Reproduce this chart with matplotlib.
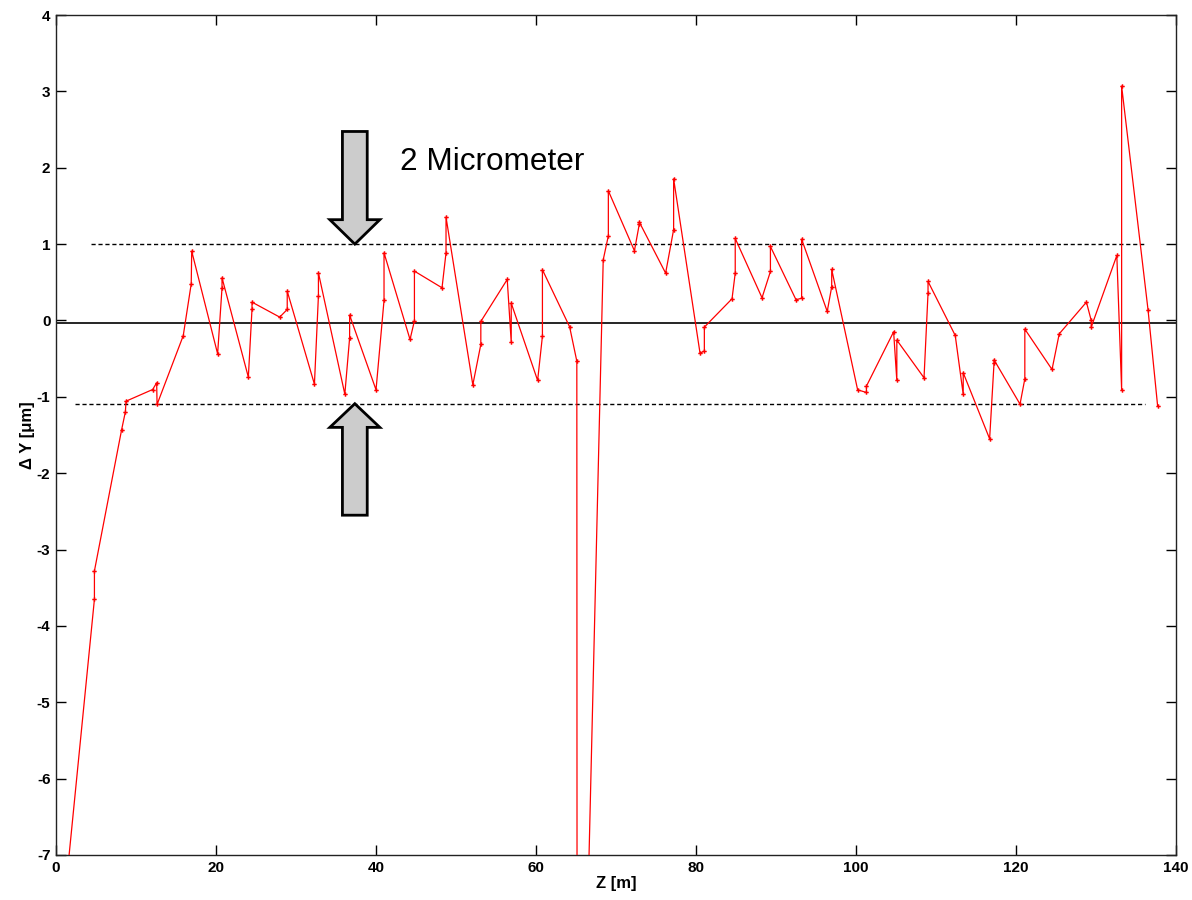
import matplotlib
matplotlib.use("Agg")
import matplotlib.pyplot as plt
from matplotlib.patches import FancyArrow

plt.rcParams['font.family'] = ['Liberation Sans', 'DejaVu Sans']
plt.rcParams['axes.unicode_minus'] = False

# Data
z = [0.5, 4.8, 4.8, 8.2, 8.67, 8.75, 12.08, 12.58, 12.63, 15.9, 16.9, 16.96,
     20.2, 20.75, 20.75, 24.04, 24.5, 24.5, 27.96, 28.9, 28.9, 32.3, 32.8, 32.8,
     36.1, 36.7, 36.7, 40.0, 41.0, 41.0, 44.25, 44.8, 44.8, 48.25, 48.75, 48.75,
     52.1, 53.1, 53.1, 56.4, 56.9, 56.9, 60.2, 60.8, 60.8, 64.2, 65.1, 65.15,
     68.4, 69.04, 69.04, 72.3, 72.9, 72.9, 76.2, 77.2, 77.2, 80.5, 81.04, 81.04,
     84.5, 84.9, 84.9, 88.25, 89.3, 89.3, 92.5, 93.2, 93.2, 96.4, 96.96, 96.96,
     100.2, 101.3, 101.3, 104.7, 105.1, 105.1, 108.5, 109.0, 109.0, 112.4, 113.4, 113.4,
     116.7, 117.25, 117.25, 120.5, 121.1, 121.1, 124.5, 125.4, 128.8, 129.4, 129.4,
     132.6, 133.2, 133.2, 136.5, 137.7]
dy = [-8.2, -3.65, -3.28, -1.43, -1.196, -1.057, -0.904, -0.816, -1.10, -0.20, 0.48, 0.908,
      -0.437, 0.428, 0.559, -0.742, 0.153, 0.24, 0.044, 0.144, 0.384, -0.834, 0.323, 0.624,
      -0.965, -0.227, 0.07, -0.908, 0.262, 0.886, -0.249, -0.004, 0.646, 0.428, 0.886, 1.353,
      -0.843, -0.314, -0.013, 0.537, -0.284, 0.227, -0.786, -0.205, 0.664, -0.083, -0.533, -13.5,
      0.795, 1.109, 1.698, 0.913, 1.257, 1.29, 0.62, 1.19, 1.855, -0.428, -0.40, -0.087,
      0.284, 0.62, 1.074, 0.297, 0.642, 0.969, 0.271, 0.292, 1.065, 0.118, 0.441, 0.668,
      -0.908, -0.943, -0.86, -0.148, -0.786, -0.257, -0.751, 0.358, 0.511, -0.196, -0.969, -0.685,
      -1.55, -0.559, -0.515, -1.096, -0.764, -0.113, -0.642, -0.175, 0.24, 0.0, -0.087,
      0.851, -0.904, 3.07, 0.14, -1.12]

upper_band = 1.0
lower_band = -1.09
zero_line = -0.03
band_z = [4.4, 136.1]
lower_band_z = [2.4, 136.1]
x_ticks = [0, 20, 40, 60, 80, 100, 120, 140]
y_ticks = [-7, -6, -5, -4, -3, -2, -1, 0, 1, 2, 3, 4]

fig = plt.figure(figsize=(11.92, 9.0), dpi=100)
ax = fig.add_axes([0.047, 0.05, 0.9396, 0.9333])

ax.plot(z, dy, color='red', lw=0.9, marker='P', markersize=3.2,
        markeredgewidth=0, markerfacecolor='red', zorder=3)

ax.axhline(zero_line, color='black', lw=1.2, zorder=2)
ax.plot(band_z, [upper_band, upper_band], color='black', lw=1.0,
        linestyle=(0, (3, 2)), zorder=2)
ax.plot(lower_band_z, [lower_band, lower_band], color='black', lw=1.0,
        linestyle=(0, (3, 2)), zorder=2)

# arrows
ax.add_patch(FancyArrow(37.35, 2.475, 0, upper_band - 2.475, width=3.1,
                        head_width=6.25, head_length=0.32,
                        length_includes_head=True, facecolor='#cccccc',
                        edgecolor='black', lw=2, zorder=4))
ax.add_patch(FancyArrow(37.35, -2.55, 0, lower_band + 2.55, width=3.1,
                        head_width=6.25, head_length=0.31,
                        length_includes_head=True, facecolor='#cccccc',
                        edgecolor='black', lw=2, zorder=4))

ax.text(43.0, 2.07, '2 Micrometer', fontsize=22.7, ha='left', va='center')

ax.set_xlim(0, 140)
ax.set_ylim(-7, 4)
ax.set_xticks(x_ticks)
ax.set_yticks(y_ticks)
ax.tick_params(direction='in', length=7, width=1, top=True, right=True,
               labelsize=11, pad=4)
for lab in ax.get_xticklabels() + ax.get_yticklabels():
    lab.set_fontweight('bold')
for sp in ax.spines.values():
    sp.set_linewidth(1.0)
    sp.set_color('#222222')

ax.set_xlabel('Z [m]', fontsize=12, fontweight='bold', labelpad=1)
ax.set_ylabel('Δ Y [μm]', fontsize=12, fontweight='bold', labelpad=1)

fig.savefig('out.png', dpi=100)
